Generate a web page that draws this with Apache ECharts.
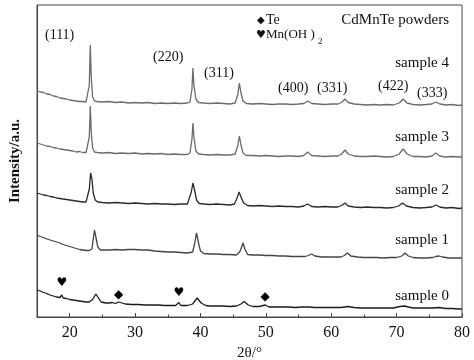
<!DOCTYPE html>
<html><head><meta charset="utf-8">
<script src="https://cdn.jsdelivr.net/npm/echarts@6/dist/echarts.min.js"></script>
<style>html,body{margin:0;padding:0;background:#fff}#c{width:474px;height:360px}</style>
</head><body><div id="c"></div>
<script>
const sampleNames = ['sample 0','sample 1','sample 2','sample 3','sample 4'];
const peakLabels = ['(111)','(220)','(311)','(400)','(331)','(422)','(333)'];
const xTicks = [20,30,40,50,60,70,80];

const s4 = [[15,226],[15.5,225],[16,224.5],[16.5,223],[17,222.5],[17.5,221],[18,220.5],[18.5,219],[19,218.5],[19.5,218],[20,217],[20.5,216.5],[21,216],[21.5,215.5],[22,215.5],[22.5,215],[22.8,216],[23.0,232],[23.15,272],[23.3,240],[23.5,220],[23.8,216],[24.2,215.5],[25,215],[26,215.5],[27,214.5],[28,215],[29,214],[30,214.5],[31,214],[32,214.5],[33,213.5],[34,214],[35,213.5],[36,214],[37,213.5],[38,214],[38.4,215],[38.7,228],[38.85,249],[39.0,232],[39.3,218],[39.7,214.5],[40.5,214],[41.5,213.5],[42.5,214],[43.5,213.5],[44.5,213],[45.3,214],[45.7,222],[45.95,234],[46.2,224],[46.5,216],[47,213.5],[48,213],[49,213.5],[50,213],[51,212.5],[52,213],[53,213],[54,212.5],[55,213],[55.8,213.5],[56.4,216],[57,213.5],[58,213],[59,212.5],[60,213],[61,213],[61.6,214.5],[62.1,218],[62.6,214.5],[63.5,213],[64.5,212.5],[65.5,212],[66.5,212.5],[67.5,212],[68.5,212.5],[69.5,212],[70.4,214],[71.0,218],[71.6,214],[72.5,212.5],[73.5,212],[74.5,212.5],[75.4,213],[76.0,215],[76.6,213],[77.5,212],[78.5,212.5],[79.5,211.5],[80,212]];
const s3 = [[15,174],[15.5,173],[16,172],[16.5,171],[17,170.5],[17.5,169.5],[18,169],[18.5,168],[19,167.5],[19.5,167],[20,166.5],[20.5,166],[21,165],[21.5,165.5],[22,164.5],[22.5,164.5],[22.8,165.5],[23.0,180],[23.15,211],[23.3,185],[23.5,169],[23.8,165],[24.2,164.5],[25,164],[26,164.5],[27,163.5],[28,164],[29,163.5],[30,164],[31,163],[32,163.5],[33,163],[34,163.5],[35,162.5],[36,163],[37,162.5],[38,162.5],[38.4,164],[38.7,178],[38.85,194],[39.0,180],[39.3,166],[39.7,163],[40.5,162.5],[41.5,162],[42.5,162.5],[43.5,162],[44.5,162],[45.3,163],[45.7,171],[45.95,181],[46.2,172],[46.5,164],[47,161.5],[48,161.5],[49,161],[50,161.5],[51,161],[52,160.5],[53,161],[54,161],[55,160.5],[55.8,161.5],[56.4,165],[57,161.5],[58,161],[59,160.5],[60,161],[61,161],[61.6,163],[62.1,167],[62.6,163],[63.5,161],[64.5,160.5],[65.5,160.5],[66.5,161],[67.5,160.5],[68.5,160],[69.5,160.5],[70.4,163],[71.0,168],[71.6,163],[72.5,160.5],[73.5,160.5],[74.5,160],[75.4,161],[76.0,164],[76.6,161],[77.5,160],[78.5,160.5],[79.5,160],[80,160]];
const s2 = [[15,124],[15.5,123],[16,122],[16.5,121.5],[17,120.5],[17.5,120],[18,119],[18.5,118.5],[19,118],[19.5,117.5],[20,117],[20.5,116.5],[21,116],[21.5,115.5],[22,115],[22.5,115],[22.8,117],[23.0,128],[23.2,144],[23.4,138],[23.6,124],[23.9,117],[24.3,115],[25,114.5],[26,114],[27,114.5],[28,114],[29,113.5],[30,114],[31,113.5],[32,113],[33,113.5],[34,113],[35,113],[36,112.5],[37,113],[38,113],[38.3,115],[38.6,125],[38.85,134],[39.1,127],[39.4,117],[39.8,113.5],[40.5,113],[41.5,112.5],[42.5,113],[43.5,112.5],[44.5,112],[45.2,113],[45.6,119],[45.9,125],[46.2,120],[46.6,114],[47.2,111.5],[48,111],[49,111.5],[50,111],[51,110.5],[52,111],[53,110.5],[54,110.5],[55,110],[55.8,111],[56.4,113],[57,110.5],[58,110],[59,110.5],[60,110],[61,110],[61.6,111.5],[62.1,114],[62.6,111],[63.5,110],[64.5,109.5],[65.5,110],[66.5,109.5],[67.5,109.5],[68.5,109],[69.5,109.5],[70.3,111],[70.9,114],[71.5,111],[72.5,109.5],[73.5,109],[74.5,109.5],[75.4,110],[76.0,112],[76.6,110],[77.5,109],[78.5,109.5],[79.5,108.5],[80,109]];
const s1 = [[15,82],[15.5,80.5],[16,79.5],[16.5,78],[17,77],[17.5,76],[18,75],[18.5,74],[19,72.5],[19.5,71.5],[20,70.5],[20.5,69.5],[21,68.5],[21.5,67.5],[22,67],[22.5,66.5],[23,66.5],[23.4,68],[23.6,78],[23.8,87],[24.0,80],[24.3,70],[24.7,67],[25,66.5],[26,67],[27,67.5],[28,67],[29,67.5],[30,67.5],[31,67],[32,67],[33,66],[34,65.5],[35,65],[36,65],[37,64.5],[38,64],[38.8,65],[39.1,73],[39.4,84],[39.7,74],[40.0,66],[40.5,63.5],[41.5,63],[42.5,63],[43.5,62.5],[44.5,62.5],[45.5,62],[46.0,65],[46.3,70],[46.5,74],[46.8,68],[47.2,62.5],[48,62],[49,62],[50,61.5],[51,61.5],[52,61],[53,61],[54,60.5],[55,60.5],[56,60.5],[56.5,61.5],[57,63],[57.5,61],[58.5,60],[59.5,60],[60.5,60],[61.5,60],[62.0,61.5],[62.5,64],[63.0,61],[64,60],[65,59.5],[66,59.5],[67,59.5],[68,59],[69,59.5],[70,59.5],[70.8,61],[71.3,64],[71.8,61],[72.5,59.5],[73.5,59],[74.5,59],[75.5,59.5],[76.0,60.5],[76.5,61],[77.0,60],[78,59],[79,59],[80,59]];
const s0 = [[15,27],[15.5,26],[16,24.5],[16.5,23.5],[17,22],[17.5,21],[18,20],[18.5,19.5],[18.8,22],[19.0,19],[19.5,18.5],[20,17.5],[20.5,17],[21,16.5],[21.5,16],[22,15.5],[22.5,15],[23,15],[23.5,17.5],[24.0,23],[24.4,19],[24.8,15],[25.5,14],[26,14],[26.5,14.5],[27,13.5],[27.5,15],[27.8,13],[28.5,13],[29.5,12.5],[30.5,12.5],[31.5,12],[32.5,12],[33.5,12],[34.5,11.5],[35.5,11.5],[36.2,11.5],[36.7,14.5],[37.0,11.5],[38,11.5],[38.8,13],[39.5,19],[40.1,14],[40.8,11.5],[41.5,11],[42.5,11],[43.5,11],[44.5,10.5],[45.5,11],[46.2,13],[46.7,15.5],[47.3,12],[48,10.5],[49,10.5],[49.9,12],[50.5,10],[51.5,10],[52.5,10],[53.5,10],[54.5,9.5],[55.5,10],[56.5,10],[57.5,9.5],[58.5,9.5],[59.5,9.5],[60.5,9.5],[61.5,9.5],[62.5,10.5],[63.5,9.5],[64.5,9],[65.5,9],[66.5,9],[67.5,9],[68.5,9],[69.5,9],[70.5,10.5],[71.2,11],[71.8,10],[72.5,9],[73.5,9],[74.5,9],[75.5,9],[76.5,9.5],[77.5,8.5],[78.5,8.5],[79.5,8],[80,8]];

// phase markers on sample 0: [2theta, height, symbol]
const phaseMarks = [[18.8,34,'♥'],[27.5,22,'◆'],[36.7,24,'♥'],[49.9,20,'◆']];

const FONT = '"Liberation Serif","Times New Roman",serif';
const chart = echarts.init(document.getElementById('c'), null, {renderer:'canvas'});

function line(name, data, color){
  return {name, type:'line', data, showSymbol:false, symbol:'none', smooth:false,
    lineStyle:{color, width:1.3}, animation:false, z:3};
}
const series = [
  line(sampleNames[4], s4, '#6b6b6b'),
  line(sampleNames[3], s3, '#6b6b6b'),
  line(sampleNames[2], s2, '#2a2a2a'),
  line(sampleNames[1], s1, '#444444'),
  Object.assign(line(sampleNames[0], s0, '#1a1a1a'), {
    markPoint:{symbol:'circle', symbolSize:1, itemStyle:{color:'rgba(0,0,0,0)'}, animation:false,
      label:{show:true, position:'inside', color:'#000', fontSize:12, fontFamily:'DejaVu Sans',
        formatter:p=>p.name},
      data: phaseMarks.map(m=>({name:m[2], coord:[m[0],m[1]]}))}
  })
];

function txt(text, x, y, size, align){
  return {type:'text', x, y, z:10, style:{text, fontSize:size, fontFamily:FONT, fill:'#111',
    align:align||'left', verticalAlign:'middle', textAlign:align||'left', textVerticalAlign:'middle'}};
}
const peakPos = [[45,35],[153,57],[204,73],[278,88],[317,88],[378,86],[417,93]];
const samplePos = [296,240,190,137,63];
const graphic = [];
peakLabels.forEach((t,i)=>graphic.push(txt(t, peakPos[i][0], peakPos[i][1], 14)));
sampleNames.forEach((t,i)=>graphic.push(txt(t, 449, samplePos[i], 15, 'right')));
graphic.push(txt('CdMnTe powders', 449, 20, 15, 'right'));
graphic.push({type:'text', x:257, y:20, z:10, style:{text:'◆', fontSize:10, fontFamily:'DejaVu Sans', fill:'#111', verticalAlign:'middle', textVerticalAlign:'middle'}});
graphic.push(txt('Te', 266, 20, 14));
graphic.push({type:'text', x:256, y:35, z:10, style:{text:'♥', fontSize:11, fontFamily:'DejaVu Sans', fill:'#111', verticalAlign:'middle', textVerticalAlign:'middle'}});
graphic.push(txt('Mn(OH )', 266, 35, 13));
graphic.push(txt('2', 318, 42, 9));

chart.setOption({
  animation:false,
  backgroundColor:'#fff',
  grid:{left:37, right:12, top:5, bottom:43, containLabel:false, outerBoundsMode:'none',
    show:true, borderColor:'#444', borderWidth:1, backgroundColor:'transparent'},
  xAxis:{type:'value', min:15, max:80, splitNumber:7,
    name:'2θ/°', nameLocation:'middle', nameGap:27,
    nameTextStyle:{fontFamily:FONT, fontSize:15, color:'#111'},
    axisLine:{show:true, lineStyle:{color:'#444', width:1}},
    axisTick:{show:true, inside:true, length:4, lineStyle:{color:'#444'}},
    minorTick:{show:true, splitNumber:2, length:2.5, lineStyle:{color:'#444'}},
    splitLine:{show:false},
    axisLabel:{fontFamily:FONT, fontSize:16, color:'#111', margin:8, showMinLabel:false,
      formatter:v=> xTicks.indexOf(v)>=0 ? String(v) : ''}
  },
  yAxis:{type:'value', min:0, max:312,
    name:'Intensity/a.u.', nameLocation:'middle', nameGap:14,
    nameTextStyle:{fontFamily:FONT, fontSize:15, fontWeight:'bold', color:'#111'},
    axisLine:{show:true, lineStyle:{color:'#444'}},
    axisTick:{show:false}, axisLabel:{show:false}, splitLine:{show:false}
  },
  series,
  graphic
});
</script></body></html>
